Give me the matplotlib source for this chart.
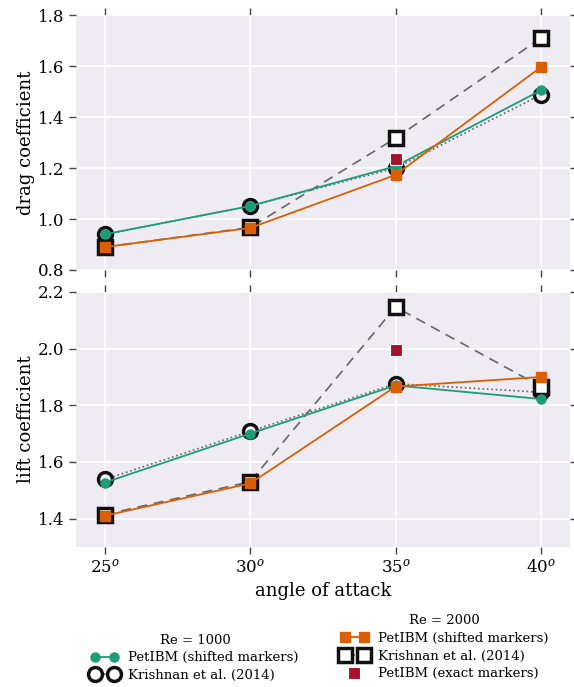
import matplotlib
matplotlib.use('Agg')
import matplotlib.pyplot as plt
from matplotlib.legend_handler import HandlerLine2D

angles = [25, 30, 35, 40]
angle_labels = ['$25^o$', '$30^o$', '$35^o$', '$40^o$']

# drag coefficient
cd_petibm_1000 = [0.94, 1.051, 1.207, 1.505]
cd_krishnan_1000 = [0.94, 1.051, 1.200, 1.487]
cd_petibm_2000 = [0.89, 0.965, 1.173, 1.596]
cd_krishnan_2000 = [0.89, 0.967, 1.317, 1.71]
cd_exact_2000 = [1.235]

# lift coefficient
cl_petibm_1000 = [1.527, 1.70, 1.870, 1.822]
cl_krishnan_1000 = [1.538, 1.708, 1.876, 1.846]
cl_petibm_2000 = [1.41, 1.524, 1.866, 1.90]
cl_krishnan_2000 = [1.414, 1.53, 2.147, 1.866]
cl_exact_2000 = [1.995]
exact_angles = [35]

green = '#1b9e77'
orange = '#d95f02'
crimson = '#a6112e'
gray = '#666666'

plt.rcParams['font.family'] = 'DejaVu Serif'
plt.rcParams['mathtext.fontset'] = 'dejavuserif'

fig = plt.figure(figsize=(5.74, 6.87), dpi=100)
ax1 = fig.add_axes([0.132, 0.607, 0.861, 0.371])
ax2 = fig.add_axes([0.132, 0.204, 0.861, 0.371], sharex=ax1)

def draw(ax, p1000, k1000, p2000, k2000, exact):
    ax.plot(angles, p1000, color=green, lw=1.3, marker='o', ms=6.5,
            mec=green, zorder=4, label='PetIBM (shifted markers)')
    ax.plot(angles, k1000, color=gray, lw=1.2, ls=':', marker='o', ms=10,
            mfc='white', mec='#111111', mew=2.5, zorder=3,
            label='Krishnan et al. (2014)')
    ax.plot(angles, p2000, color=orange, lw=1.3, marker='s', ms=7.5,
            mec=orange, zorder=4, label='PetIBM (shifted markers)')
    ax.plot(angles, k2000, color=gray, lw=1.2, ls=(0, (6, 4)), marker='s',
            ms=10, mfc='white', mec='#111111', mew=2.5, zorder=3,
            label='Krishnan et al. (2014)')
    ax.plot(exact_angles, exact, ls='none', marker='s', ms=9, color=crimson,
            mec='white', mew=0.8, zorder=5, label='PetIBM (exact markers)')
    ax.set_facecolor('#eeebf3')
    ax.grid(True, color='white', lw=1.2)
    ax.set_axisbelow(True)
    for s in ax.spines.values():
        s.set_visible(False)
    ax.tick_params(direction='out', length=5, width=1, color='#444444',
                   top=True, right=True, labelsize=12)

draw(ax1, cd_petibm_1000, cd_krishnan_1000, cd_petibm_2000, cd_krishnan_2000, cd_exact_2000)
draw(ax2, cl_petibm_1000, cl_krishnan_1000, cl_petibm_2000, cl_krishnan_2000, cl_exact_2000)

ax1.set_xlim(24, 41)
ax1.set_ylim(0.8, 1.8)
ax1.set_yticks([0.8, 1.0, 1.2, 1.4, 1.6, 1.8])
ax1.set_ylabel('drag coefficient', fontsize=13, labelpad=2)
plt.setp(ax1.get_xticklabels(), visible=False)

ax2.set_ylim(1.3, 2.2)
ax2.set_yticks([1.4, 1.6, 1.8, 2.0, 2.2])
ax2.set_xticks(angles)
ax2.set_xticklabels(angle_labels)
ax2.set_ylabel('lift coefficient', fontsize=13, labelpad=2)
ax2.set_xlabel('angle of attack', fontsize=13)

h, l = ax2.get_legend_handles_labels()
leg1 = fig.legend(h[:2], l[:2], title='Re = 1000', loc='upper center',
                  bbox_to_anchor=(0.34, 0.095), frameon=False, fontsize=9.5,
                  title_fontsize=9.5, numpoints=2, handlelength=2.0,
                  labelspacing=0.35)
leg2 = fig.legend(h[2:], l[2:], title='Re = 2000', loc='upper center',
                  bbox_to_anchor=(0.775, 0.123), frameon=False, fontsize=9.5,
                  title_fontsize=9.5, numpoints=2, handlelength=2.0,
                  labelspacing=0.35,
                  handler_map={h[4]: HandlerLine2D(numpoints=1)})

fig.savefig('out.png', dpi=100)
